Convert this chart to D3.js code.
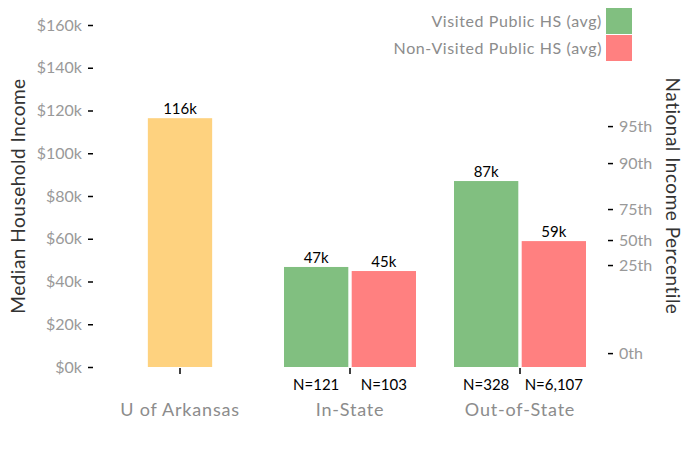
<html>
<head>
<meta charset="utf-8">
<script src="https://d3js.org/d3.v7.min.js"></script>
<style>
body { margin: 0; font-family: Lato, "Open Sans", sans-serif; }
.tick text { fill: #999; }
</style>
</head>
<body>
<div id="chart"></div>
<script>
	// values in $ thousands
	var categories = ["U of Arkansas", "In-State", "Out-of-State"];
	var series = ["Visited Public HS (avg)", "Non-Visited Public HS (avg)"];
	var arkansasValue = 116.4;
	var visitedValues = [46.8, 87.0];
	var nonVisitedValues = [44.9, 58.9];
	var visitedN = ["N=121", "N=328"];
	var nonVisitedN = ["N=103", "N=6,107"];
	var incomeTicks = [0, 20, 40, 60, 80, 100, 120, 140, 160];
	var percentileLabels = ["0th", "25th", "50th", "75th", "90th", "95th"];
	var percentileIncome = [6.5, 47.7, 59.4, 73.9, 95.4, 112.7];

	var colors = ["#81bf80", "#ff8080"];
	var arkColor = "#fed27f";

	var width = 700, height = 450;
	var svg = d3.select("#chart").append("svg")
		.attr("width", width).attr("height", height);

	var y = d3.scaleLinear().domain([0, 160]).range([367, 25]);
	var x = d3.scaleBand().domain(categories).range([95, 605]);
	var xs = d3.scaleBand().domain(series).range([-66, 66]).paddingInner(0.05);

	// left axis
	var yAxis = svg.append("g")
		.attr("transform", "translate(93,0)")
		.call(d3.axisLeft(y).tickValues(incomeTicks).tickSize(5).tickPadding(6)
			.tickFormat(d => "$" + d + "k"));
	yAxis.select(".domain").remove();
	yAxis.selectAll("text").style("font-size", "16px").style("font-family", "Lato");
	yAxis.selectAll("line").attr("stroke", "#000").attr("stroke-width", 1.5);

	// right axis
	var rAxis = svg.append("g")
		.attr("transform", "translate(608,0)")
		.call(d3.axisRight(y).tickValues(percentileIncome).tickSize(5).tickPadding(6)
			.tickFormat((d, i) => percentileLabels[i]));
	rAxis.select(".domain").remove();
	rAxis.selectAll("text").style("font-size", "16px").style("font-family", "Lato");
	rAxis.selectAll("line").attr("stroke", "#000").attr("stroke-width", 1.5);

	// bottom axis
	var xAxis = svg.append("g")
		.attr("transform", "translate(0,368)")
		.call(d3.axisBottom(x).tickSize(6).tickPadding(29));
	xAxis.select(".domain").remove();
	xAxis.selectAll("line").attr("stroke", "#000").attr("stroke-width", 1.5);
	xAxis.selectAll("text").style("font-size", "18px").style("font-family", "Lato")
		.style("letter-spacing", "0.8px").style("fill", "#8c8c8c");

	// axis titles
	svg.append("text")
		.attr("transform", "translate(25,196) rotate(-90)")
		.attr("text-anchor", "middle")
		.style("font-size", "19px").style("fill", "#333").style("letter-spacing", "0.5px")
		.text("Median Household Income");
	svg.append("text")
		.attr("transform", "translate(666,196) rotate(90)")
		.attr("text-anchor", "middle")
		.style("font-size", "19px").style("fill", "#333").style("letter-spacing", "0.5px")
		.text("National Income Percentile");

	// U of Arkansas bar
	var arkX = x(categories[0]) + x.bandwidth() / 2 - xs.bandwidth() / 2;
	svg.append("rect")
		.attr("x", arkX).attr("y", y(arkansasValue))
		.attr("width", xs.bandwidth()).attr("height", y(0) - y(arkansasValue))
		.attr("fill", arkColor);
	svg.append("text")
		.attr("x", arkX + xs.bandwidth() / 2).attr("y", y(arkansasValue) - 4)
		.attr("text-anchor", "middle").style("font-size", "15px")
		.text(Math.round(arkansasValue) + "k");

	// grouped bars
	var groups = categories.slice(1).map((c, i) => ({
		cat: c,
		bars: [
			{ s: series[0], v: visitedValues[i], n: visitedN[i] },
			{ s: series[1], v: nonVisitedValues[i], n: nonVisitedN[i] }
		]
	}));

	var g = svg.selectAll("g.grp").data(groups).enter().append("g")
		.attr("class", "grp")
		.attr("transform", d => "translate(" + (x(d.cat) + x.bandwidth() / 2) + ",0)");

	g.selectAll("rect").data(d => d.bars).enter().append("rect")
		.attr("x", d => xs(d.s)).attr("y", d => y(d.v))
		.attr("width", xs.bandwidth()).attr("height", d => y(0) - y(d.v))
		.attr("fill", (d, i) => colors[i]);

	g.selectAll("text.val").data(d => d.bars).enter().append("text")
		.attr("class", "val")
		.attr("x", d => xs(d.s) + xs.bandwidth() / 2).attr("y", d => y(d.v) - 4)
		.attr("text-anchor", "middle").style("font-size", "15px")
		.text(d => Math.round(d.v) + "k");

	g.selectAll("text.n").data(d => d.bars).enter().append("text")
		.attr("class", "n")
		.attr("x", d => xs(d.s) + xs.bandwidth() / 2).attr("y", 390)
		.attr("text-anchor", "middle").style("font-size", "15px")
		.text(d => d.n);

	// legend
	var leg = svg.selectAll("g.leg").data(series).enter().append("g")
		.attr("class", "leg")
		.attr("transform", (d, i) => "translate(606," + (8 + i * 27) + ")");
	leg.append("rect").attr("width", 26).attr("height", 26)
		.attr("fill", (d, i) => colors[i]);
	leg.append("text").attr("x", -4).attr("y", 13).attr("dy", "0.35em")
		.attr("text-anchor", "end").style("font-size", "16px").style("letter-spacing", "0.6px")
		.style("fill", "#8c8c8c")
		.text(d => d);
</script>
</body>
</html>
